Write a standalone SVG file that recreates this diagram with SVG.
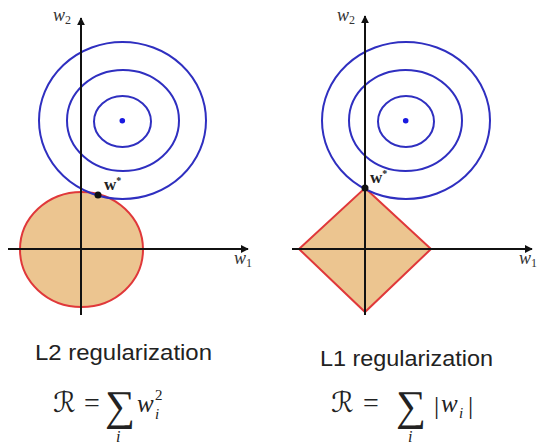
<svg xmlns="http://www.w3.org/2000/svg" width="537" height="444" viewBox="0 0 537 444">
<defs>
<marker id="arr" viewBox="0 0 10 10" refX="9" refY="5" markerWidth="4" markerHeight="4" orient="auto" markerUnits="strokeWidth">
<path d="M0,0 L10,5 L0,10 z" fill="#111"/>
</marker>
<style>
.axis{stroke:#111;stroke-width:2;fill:none}
.contour{stroke:#2f2fc0;stroke-width:2;fill:none}
.region{fill:#ecc590;stroke:#e0383a;stroke-width:2}
.opt{fill:#1a1ae0}
.wstar{fill:#111}
.ax{font-family:"Liberation Serif",serif;font-style:italic;font-size:18px;fill:#333}
.sub{font-family:"Liberation Serif",serif;font-style:normal;font-size:12px;fill:#333}
.ws{font-family:"Liberation Serif",serif;font-weight:bold;font-size:17px;fill:#222}
.title{font-family:"Liberation Sans",Arial,sans-serif;font-size:22px;fill:#222}
.m{font-family:"Liberation Serif",serif;fill:#222}
.mi{font-family:"Liberation Serif",serif;font-style:italic;fill:#222}
.scr{font-family:"DejaVu Serif","DejaVu Sans",serif;fill:#222}
</style>
</defs>
<rect width="537" height="444" fill="#fff"/>

<g id="l2-panel">
<g id="l2-region"><ellipse class="region" cx="81.5" cy="249.5" rx="61.5" ry="57.5"/></g>
<g id="l2-contours">
<ellipse class="contour" cx="122.5" cy="120.5" rx="83.5" ry="78.5"/>
<ellipse class="contour" cx="123" cy="120.5" rx="56" ry="50.5"/>
<ellipse class="contour" cx="122.5" cy="121.5" rx="28.5" ry="25.5"/>
<circle class="opt" cx="122.3" cy="120.7" r="2.8"/>
</g>
<g id="l2-axes">
<line class="axis" x1="8" y1="249" x2="248" y2="249" marker-end="url(#arr)"/>
<line class="axis" x1="81" y1="315" x2="81" y2="18" marker-end="url(#arr)"/>
<text class="ax" x="53" y="21">w<tspan class="sub" dy="3">2</tspan></text>
<text class="ax" x="234" y="264">w<tspan class="sub" dy="3">1</tspan></text>
</g>
<g id="l2-wstar">
<circle class="wstar" cx="98" cy="195" r="3.5"/>
<text class="ws" x="104" y="190">w<tspan font-size="10" dy="-6">*</tspan></text>
</g>
</g>

<g id="l1-panel">
<g id="l1-region"><polygon class="region" points="365,188 431,249 365,312 299,249"/></g>
<g id="l1-contours">
<ellipse class="contour" cx="406" cy="120.5" rx="84" ry="78.5"/>
<ellipse class="contour" cx="405.5" cy="120.5" rx="56.5" ry="50.5"/>
<ellipse class="contour" cx="406" cy="121.5" rx="28" ry="25.5"/>
<circle class="opt" cx="405.7" cy="120.7" r="2.8"/>
</g>
<g id="l1-axes">
<line class="axis" x1="292" y1="249" x2="532" y2="249" marker-end="url(#arr)"/>
<line class="axis" x1="365" y1="315" x2="365" y2="16" marker-end="url(#arr)"/>
<text class="ax" x="337" y="21">w<tspan class="sub" dy="3">2</tspan></text>
<text class="ax" x="519" y="264">w<tspan class="sub" dy="3">1</tspan></text>
</g>
<g id="l1-wstar">
<circle class="wstar" cx="365" cy="188" r="3.5"/>
<text class="ws" x="370" y="183">w<tspan font-size="10" dy="-6">*</tspan></text>
</g>
</g>

<g id="l2-caption">
<text class="title" x="35" y="360" textLength="177" lengthAdjust="spacingAndGlyphs">L2 regularization</text>
<text class="scr" x="53" y="412" font-size="28">ℛ</text>
<text class="m" x="84" y="412" font-size="28">=</text>
<text class="m" x="105" y="420" font-size="42">∑</text>
<text class="mi" x="116" y="442" font-size="16">i</text>
<text class="mi" x="137" y="412" font-size="25">w</text>
<text class="m" x="155" y="400" font-size="15">2</text>
<text class="mi" x="155" y="419" font-size="15">i</text>
</g>

<g id="l1-caption">
<text class="title" x="320" y="366" textLength="173" lengthAdjust="spacingAndGlyphs">L1 regularization</text>
<text class="scr" x="331" y="412" font-size="28">ℛ</text>
<text class="m" x="363" y="412" font-size="28">=</text>
<text class="m" x="396" y="420" font-size="42">∑</text>
<text class="mi" x="408" y="442" font-size="16">i</text>
<text class="m" x="434" y="414" font-size="26">|</text>
<text class="mi" x="441" y="412" font-size="25">w</text>
<text class="mi" x="459" y="418" font-size="15">i</text>
<text class="m" x="468" y="414" font-size="26">|</text>
</g>
</svg>
